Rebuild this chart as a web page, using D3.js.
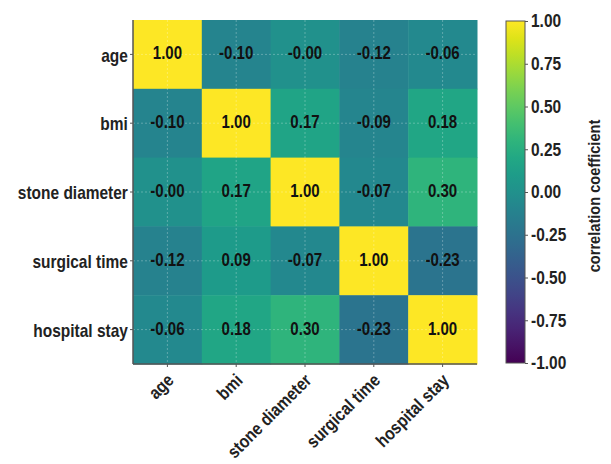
<!DOCTYPE html>
<html>
<head>
<script src="https://d3js.org/d3.v7.min.js" charset="utf-8"></script>
<style>
    body{margin:0;background:#fff;}
    text{font-family:"Liberation Sans",Arial,sans-serif;font-weight:bold;}
</style>
</head>
<body>
<div id="chart"></div>
<script>
    var variables = ["age","bmi","stone diameter","surgical time","hospital stay"]
    var rowAge      = [1.00,-0.10,-0.00,-0.12,-0.06]
    var rowBmi      = [-0.10,1.00,0.17,-0.09,0.18]
    var rowStone    = [-0.00,0.17,1.00,-0.07,0.30]
    var rowSurgical = [-0.12,0.09,-0.07,1.00,-0.23]
    var rowHospital = [-0.06,0.18,0.30,-0.23,1.00]
    var rows = [rowAge,rowBmi,rowStone,rowSurgical,rowHospital]
    var colorTicks = [1.00,0.75,0.50,0.25,0.00,-0.25,-0.50,-0.75,-1.00]
    var colorLabel = "correlation coefficient"

    var W = 611, H = 464
    var mLeft = 133, mTop = 20, size = 344
    var squeeze = "scale(0.86,1)"   // fake a condensed face

    var svg = d3.select("#chart").append("svg")
        .attr("width",W).attr("height",H)

    var x = d3.scaleBand().domain(variables).range([mLeft,mLeft+size])
    var y = d3.scaleBand().domain(variables).range([mTop,mTop+size])
    var color = d3.scaleSequential(d3.interpolateViridis).domain([-1,1])

    function fmt(v){
        // keep the sign of -0.00 as printed in the picture
        return (Object.is(v,-0) ? "-" : "") + v.toFixed(2)
    }

    var cells = []
    rows.forEach(function(r,i){
        r.forEach(function(v,j){
            cells.push({row:variables[i],col:variables[j],value:v})
        })
    })

    svg.selectAll("rect.cell")
        .data(cells)
        .enter()
        .append("rect")
        .attr("class","cell")
        .attr("x",function(d){return x(d.col)})
        .attr("y",function(d){return y(d.row)})
        .attr("width",x.bandwidth()+0.5)
        .attr("height",y.bandwidth()+0.5)
        .attr("fill",function(d){return color(d.value)})

    // dashed grid at tick positions
    var grid = svg.append("g")
    variables.forEach(function(v){
        grid.append("line")
            .attr("x1",x(v)+x.bandwidth()/2).attr("x2",x(v)+x.bandwidth()/2)
            .attr("y1",mTop).attr("y2",mTop+size)
        grid.append("line")
            .attr("x1",mLeft).attr("x2",mLeft+size)
            .attr("y1",y(v)+y.bandwidth()/2).attr("y2",y(v)+y.bandwidth()/2)
    })
    grid.selectAll("line")
        .attr("stroke","#ffffff").attr("stroke-opacity",0.35)
        .attr("stroke-dasharray","2,2").attr("stroke-width",0.8)

    svg.selectAll("text.val")
        .data(cells)
        .enter()
        .append("text")
        .attr("class","val")
        .attr("transform",function(d){
            return "translate("+(x(d.col)+x.bandwidth()/2)+","+(y(d.row)+y.bandwidth()/2+5)+") "+squeeze
        })
        .attr("text-anchor","middle")
        .attr("font-size",17.5)
        .attr("fill","#111")
        .text(function(d){return fmt(d.value)})

    // axes
    var yAxis = svg.append("g")
        .attr("transform","translate("+mLeft+",0)")
        .call(d3.axisLeft(y).tickSize(3).tickPadding(3))
    yAxis.selectAll("text").attr("font-size",18).attr("fill","#222")
        .attr("dy","0.4em").attr("transform",squeeze)

    var xAxis = svg.append("g")
        .attr("transform","translate(0,"+(mTop+size)+")")
        .call(d3.axisBottom(x).tickSize(3).tickPadding(3))
    xAxis.selectAll("text")
        .attr("font-size",18).attr("fill","#222")
        .attr("text-anchor","end")
        .attr("dy","0.35em")
        .attr("transform","translate(3,13) rotate(-45) "+squeeze)
        .attr("y",0).attr("x",0)

    svg.selectAll(".domain").attr("stroke","#555").attr("stroke-width",1.5)
    svg.selectAll(".tick line").attr("stroke","#555")
    yAxis.select(".domain").attr("d","M0,"+mTop+"V"+(mTop+size))
    xAxis.select(".domain").attr("d","M"+mLeft+",0H"+(mLeft+size))

    // colorbar
    var cbX = 506, cbW = 19
    var cy = d3.scaleLinear().domain([-1,1]).range([mTop+size-1,mTop+1])
    var defs = svg.append("defs")
    var grad = defs.append("linearGradient").attr("id","cbGrad")
        .attr("x1","0").attr("x2","0").attr("y1","1").attr("y2","0")
    d3.range(0,1.0001,0.05).forEach(function(t){
        grad.append("stop").attr("offset",t).attr("stop-color",d3.interpolateViridis(t))
    })
    svg.append("rect")
        .attr("x",cbX).attr("y",cy(1)).attr("width",cbW).attr("height",cy(-1)-cy(1))
        .attr("fill","url(#cbGrad)").attr("stroke","#555").attr("stroke-width",1)

    var cAxis = svg.append("g")
        .attr("transform","translate("+(cbX+cbW)+",0)")
        .call(d3.axisRight(cy).tickValues(colorTicks).tickSize(3).tickPadding(3))
    cAxis.select(".domain").remove()
    cAxis.selectAll(".tick line").attr("stroke","#555")
    cAxis.selectAll("text").attr("font-size",18).attr("fill","#222")
        .attr("x",0).attr("transform","translate(6,0) "+squeeze)
        .text(function(d){return d.toFixed(2)})

    svg.append("text")
        .attr("transform","translate(600,"+196+") rotate(-90) "+squeeze)
        .attr("text-anchor","middle")
        .attr("font-size",17)
        .attr("fill","#222")
        .text(colorLabel)
</script>
</body>
</html>
